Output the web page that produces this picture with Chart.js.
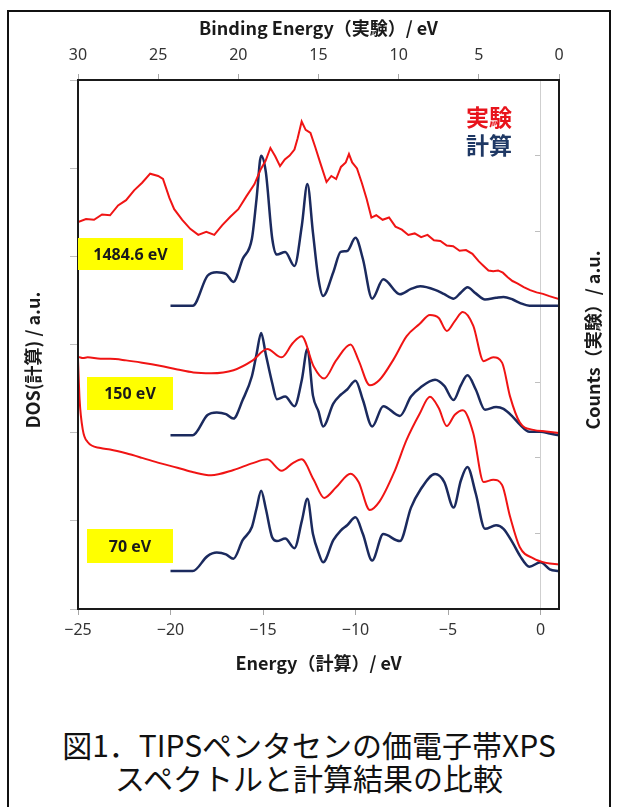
<!DOCTYPE html>
<html lang="ja">
<head>
<meta charset="utf-8">
<title>TIPSペンタセンの価電子帯XPS</title>
<script src="https://cdn.jsdelivr.net/npm/chart.js@4.4.1/dist/chart.umd.min.js"></script>
<style>
  html, body { margin: 0; padding: 0; background: #fff; }
  body { width: 618px; height: 807px; position: relative; overflow: hidden; }
  #frame { position: absolute; left: 7px; top: 10px; width: 600px; height: 830px; border: 2px solid #111; }
  #chart-box { position: absolute; left: 0; top: 0; width: 618px; height: 700px; }
  #caption { position: absolute; left: 0; top: 728px; width: 618px; text-align: center;
             font-family: 'Noto Sans CJK JP', sans-serif; font-size: 30px; line-height: 33px; color: #111; }
</style>
</head>
<body>
<div id="frame"></div>
<div id="chart-box"><canvas id="xps-chart"></canvas></div>
<div id="caption">図1．TIPSペンタセンの価電子帯XPS<br>スペクトルと計算結果の比較</div>

<script>
// Calculated DOS (bottom axis, Energy / eV) - shared energy grid
const calcEnergy = [-20, -18.8, -18.0, -17.5, -17.0, -16.6, -16.1, -15.6, -15.35, -15.1, -14.85, -14.5,
    -14.25, -13.8, -13.3, -12.9, -12.6, -12.3, -12.0, -11.75, -11.2, -10.8, -10.45, -10.0, -9.6, -9.1,
    -8.5, -7.6, -7.0, -6.5, -5.7, -5.2, -4.7, -4.3, -3.95, -3.5, -3.0, -2.4, -2.0, -1.5, -1.1, -0.6, 0, 0.5, 1];
const dos1484 = [3.44, 3.44, 3.78, 3.82, 3.80, 3.71, 3.97, 4.20, 4.65, 5.14, 4.96, 4.20,
    4.02, 4.05, 3.89, 4.35, 4.82, 4.27, 3.74, 3.55, 3.82, 4.05, 4.06, 4.21, 3.97, 3.52,
    3.74, 3.57, 3.63, 3.66, 3.62, 3.57, 3.52, 3.59, 3.65, 3.58, 3.51, 3.53, 3.54, 3.51, 3.47, 3.44, 3.44, 3.44, 3.44];
const dos150 = [1.97, 1.97, 2.20, 2.23, 2.21, 2.16, 2.37, 2.64, 2.89, 3.13, 2.89, 2.56,
    2.38, 2.41, 2.30, 2.60, 2.95, 2.42, 2.24, 2.07, 2.33, 2.43, 2.49, 2.59, 2.37, 2.07,
    2.30, 2.19, 2.41, 2.51, 2.60, 2.53, 2.37, 2.54, 2.65, 2.49, 2.26, 2.29, 2.27, 2.18, 2.09, 2.01, 2.01, 1.99, 1.97];
const dos70 = [0.43, 0.43, 0.60, 0.64, 0.62, 0.57, 0.78, 0.93, 1.14, 1.34, 1.14, 0.81,
    0.77, 0.80, 0.69, 1.00, 1.25, 0.85, 0.64, 0.53, 0.78, 0.89, 0.95, 1.04, 0.85, 0.55,
    0.85, 0.77, 1.15, 1.35, 1.53, 1.44, 1.15, 1.46, 1.61, 1.31, 0.91, 0.95, 0.91, 0.75, 0.60, 0.48, 0.53, 0.45, 0.43];

// Experimental spectra (top axis, Binding Energy / eV)
const bindingHigh = [30.0, 29.5, 29.0, 28.5, 28.0, 27.5, 27.0, 26.5, 26.0, 25.5, 25.0, 24.7, 24.3, 24.0,
    23.5, 23.0, 22.5, 22.0, 21.5, 21.0, 20.5, 20.0, 19.5, 19.0, 18.6, 18.3, 18.0, 17.7, 17.4, 17.1,
    16.8, 16.5, 16.3, 16.05, 15.8, 15.5, 15.2, 14.9, 14.5, 14.2, 13.9, 13.6, 13.3, 13.1, 12.9, 12.6,
    12.3, 12.0, 11.7, 11.4, 11.0, 10.6, 10.2, 9.8, 9.4, 9.0, 8.6, 8.2, 7.8, 7.4, 7.0, 6.6, 6.2, 5.8,
    5.4, 5.0, 4.7, 4.4, 4.1, 3.8, 3.5, 3.2, 2.9, 2.6, 2.2, 1.8, 1.4, 1.0, 0.6, 0.3, 0.0];
const counts1484 = [5.12, 5.16, 5.15, 5.22, 5.21, 5.34, 5.41, 5.54, 5.64, 5.76, 5.73, 5.69, 5.44, 5.29,
    5.15, 5.03, 4.95, 4.99, 4.95, 5.08, 5.19, 5.29, 5.46, 5.62, 5.82, 5.93, 6.10, 5.99, 5.86, 5.95,
    6.00, 6.08, 6.23, 6.45, 6.34, 6.30, 6.11, 5.91, 5.65, 5.73, 5.69, 5.85, 5.91, 6.02, 5.91, 5.83,
    5.64, 5.43, 5.18, 5.21, 5.15, 5.18, 5.06, 5.02, 4.95, 4.97, 4.92, 4.95, 4.88, 4.87, 4.81, 4.80, 4.74, 4.75,
    4.70, 4.60, 4.54, 4.48, 4.47, 4.48, 4.45, 4.39, 4.34, 4.31, 4.26, 4.22, 4.19, 4.17, 4.14, 4.12, 4.10];
const bindingLow = [30, 29.9, 29.7, 29.4, 28.6, 28.0, 27.0, 26.0, 24.9, 23.8, 22.8, 21.7, 20.3, 19.1,
    18.2, 17.3, 16.6, 16.05, 15.3, 14.65, 13.9, 13.0, 12.5, 11.8, 11.2, 10.3, 9.5, 8.7, 8.05, 7.5,
    7.0, 6.5, 6.0, 5.35, 4.7, 4.1, 3.55, 3.05, 2.45, 1.6, 0.8, 0];
const counts150 = [3.33, 3.33, 3.32, 3.33, 3.31, 3.31, 3.29, 3.26, 3.22, 3.17, 3.13, 3.12, 3.16, 3.29,
    3.44, 3.33, 3.52, 3.61, 3.21, 3.05, 3.29, 3.50, 3.29, 2.96, 3.03, 3.31, 3.61, 3.77, 3.89, 3.85,
    3.68, 3.81, 3.93, 3.75, 3.28, 3.33, 3.26, 2.81, 2.47, 2.37, 2.35, 2.33];
const counts70 = [3.30, 2.77, 2.37, 2.21, 2.13, 2.11, 2.06, 2.00, 1.93, 1.87, 1.81, 1.77, 1.84, 1.93,
    1.98, 1.83, 1.93, 1.98, 1.71, 1.47, 1.61, 1.79, 1.68, 1.31, 1.42, 1.80, 2.24, 2.58, 2.81, 2.66,
    2.42, 2.57, 2.63, 2.33, 1.68, 1.71, 1.64, 1.22, 0.82, 0.67, 0.61, 0.59];

// Ticks and labels
const energyTicks = [-25, -20, -15, -10, -5, 0];
const bindingTicks = [30, 25, 20, 15, 10, 5, 0];
const dosTicks = [0, 1, 2, 3, 4, 5, 6];
const countTicks = [0, 1, 2, 3, 4, 5, 6, 7];
const photonEnergies = ['1484.6 eV', '150 eV', '70 eV'];
const legendNames = ['実験', '計算'];

const RED = '#f01414';
const NAVY = '#1b2a5e';

function pairs(xs, ys) {
    return xs.map((x, i) => ({ x: x, y: ys[i] }));
}

function fixTicks(list) {
    return function(scale) {
        scale.ticks = list.map(v => ({ value: v }));
    };
}

const tickFont = { family: "'Noto Sans', sans-serif", size: 16 };
const titleFont = { family: "'Noto Sans CJK JP', sans-serif", size: 18, weight: 'bold' };

// Yellow label boxes, placed relative to the plot area
const labelBoxes = [
    { dx: 0, dy: 158, w: 105, h: 32 },
    { dx: 9, dy: 297, w: 86, h: 33 },
    { dx: 9, dy: 449, w: 86, h: 34 }
];

function drawVertical(ctx, text, x, y) {
    ctx.save();
    ctx.translate(x, y);
    ctx.rotate(-Math.PI / 2);
    ctx.fillText(text, 0, 0);
    ctx.restore();
}

const decorations = {
    id: 'decorations',
    afterDraw(chart) {
        const { ctx, chartArea: a } = chart;
        ctx.save();

        // plot frame
        ctx.strokeStyle = '#1a1a1a';
        ctx.lineWidth = 2;
        ctx.strokeRect(a.left, a.top, a.right - a.left, a.bottom - a.top);

        // photon energy tags
        ctx.textAlign = 'center';
        ctx.textBaseline = 'middle';
        ctx.font = "bold 16px 'Noto Sans', sans-serif";
        labelBoxes.forEach((b, i) => {
            ctx.fillStyle = '#ffff00';
            ctx.fillRect(a.left + b.dx, a.top + b.dy, b.w, b.h);
            ctx.fillStyle = '#1a1a1a';
            ctx.fillText(photonEnergies[i], a.left + b.dx + b.w / 2, a.top + b.dy + b.h / 2 + 1);
        });

        // legend
        ctx.font = "bold 23px 'Noto Sans CJK JP', sans-serif";
        ctx.fillStyle = '#e8141c';
        ctx.fillText(legendNames[0], a.right - 70, a.top + 37);
        ctx.fillStyle = '#1f3864';
        ctx.fillText(legendNames[1], a.right - 70, a.top + 65);

        // vertical axis titles
        ctx.fillStyle = '#1a1a1a';
        ctx.font = "bold 18px 'Noto Sans CJK JP', sans-serif";
        drawVertical(ctx, 'DOS(計算) / a.u.', 33, 360);
        drawVertical(ctx, 'Counts（実験）/ a.u.', 593, 340);

        ctx.restore();
    }
};

const expStyle = { xAxisID: 'x2', yAxisID: 'y2', borderColor: RED, borderWidth: 2 };
const calcStyle = { xAxisID: 'x', yAxisID: 'y', borderColor: NAVY, borderWidth: 2.5, cubicInterpolationMode: 'monotone' };

new Chart(document.getElementById('xps-chart'), {
    type: 'line',
    data: {
        datasets: [
            Object.assign({ label: '実験 1484.6 eV', data: pairs(bindingHigh, counts1484), tension: 0 }, expStyle),
            Object.assign({ label: '実験 150 eV', data: pairs(bindingLow, counts150), cubicInterpolationMode: 'monotone' }, expStyle),
            Object.assign({ label: '実験 70 eV', data: pairs(bindingLow, counts70), cubicInterpolationMode: 'monotone' }, expStyle),
            Object.assign({ label: '計算 1484.6 eV', data: pairs(calcEnergy, dos1484) }, calcStyle),
            Object.assign({ label: '計算 150 eV', data: pairs(calcEnergy, dos150) }, calcStyle),
            Object.assign({ label: '計算 70 eV', data: pairs(calcEnergy, dos70) }, calcStyle)
        ]
    },
    options: {
        responsive: true,
        maintainAspectRatio: false,
        animation: false,
        layout: { padding: { left: 0, top: 0, right: 59, bottom: 0 } },
        elements: { point: { radius: 0 } },
        plugins: {
            legend: { display: false },
            tooltip: { enabled: false }
        },
        scales: {
            x: {
                type: 'linear', position: 'bottom', min: -25, max: 1,
                afterBuildTicks: fixTicks(energyTicks),
                afterFit: s => { s.height = 91; },
                ticks: {
                    font: tickFont, color: '#333', padding: 6,
                    callback: v => (v < 0 ? '−' + Math.abs(v) : String(v))
                },
                grid: { drawOnChartArea: false, tickLength: 6, color: '#a6a6a6' },
                border: { display: false },
                title: { display: true, text: 'Energy（計算）/ eV', font: titleFont, color: '#1a1a1a', padding: { top: 0, bottom: 26 } }
            },
            x2: {
                type: 'linear', position: 'top', min: 0, max: 30, reverse: true,
                afterBuildTicks: fixTicks(bindingTicks),
                afterFit: s => { s.height = 80; },
                ticks: { font: tickFont, color: '#333', padding: 9 },
                grid: { drawOnChartArea: false, tickLength: 6, color: '#a6a6a6' },
                border: { display: false },
                title: { display: true, text: 'Binding Energy（実験）/ eV', font: titleFont, color: '#1a1a1a', padding: { top: 17, bottom: 0 } }
            },
            y: {
                type: 'linear', position: 'left', min: 0, max: 6,
                afterBuildTicks: fixTicks(dosTicks),
                afterFit: s => { s.width = 78; },
                ticks: { display: false },
                grid: { drawOnChartArea: false, tickLength: 8, color: '#bfbfbf' },
                border: { display: false }
            },
            y2: {
                type: 'linear', axis: 'y', position: { x: 0 }, min: 0, max: 7,
                afterBuildTicks: fixTicks(countTicks),
                ticks: { display: false },
                grid: { drawOnChartArea: false, tickLength: 5, color: '#bfbfbf' },
                border: { display: true, color: '#cfcfcf', width: 1 }
            }
        }
    },
    plugins: [decorations]
});
</script>
</body>
</html>
